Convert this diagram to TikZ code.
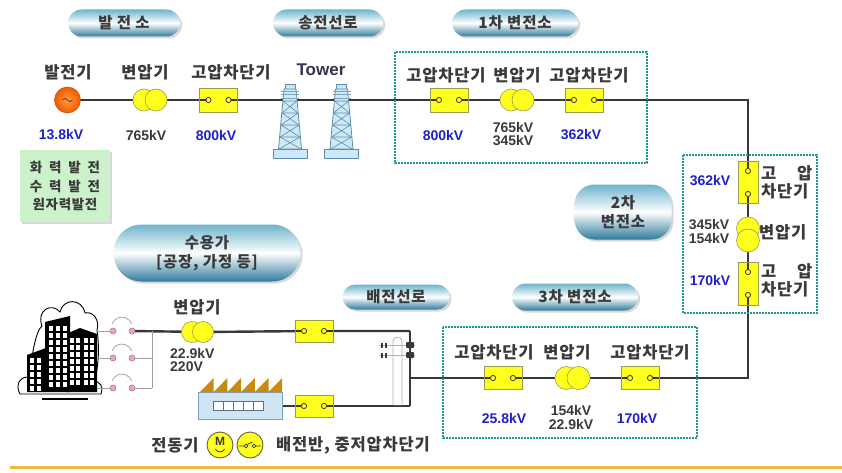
\documentclass[tikz,border=0pt]{standalone}
\usepackage{fontspec}
\setmainfont{Noto Sans CJK KR}[LetterSpace=5]
\newfontfamily\lat{Liberation Sans}
\usetikzlibrary{shadows,backgrounds,calc}

\definecolor{wirec}{HTML}{383838}
\definecolor{txt}{HTML}{3A3A3A}
\definecolor{vblue}{HTML}{2020C8}
\definecolor{yel}{HTML}{FFFF1E}
\definecolor{yeledge}{HTML}{9A9A50}
\definecolor{dteal}{HTML}{1E9A96}
\definecolor{pilltop}{HTML}{6FB4CC}
\definecolor{pillbot}{HTML}{2E7C9C}
\definecolor{boxgreen}{HTML}{CCF2CC}
\definecolor{towerfill}{HTML}{CDE9F6}
\definecolor{toweredge}{HTML}{5E8FA8}
\definecolor{gold}{HTML}{F2B83C}
\definecolor{roof}{HTML}{C98A12}
\definecolor{factory}{HTML}{CFE5F4}
\definecolor{factedge}{HTML}{7DA2C0}
\definecolor{pinkc}{HTML}{E8A6CC}
\definecolor{pinkedge}{HTML}{B86494}
\definecolor{genin}{HTML}{FF9A40}
\definecolor{genout}{HTML}{F05A00}

\begin{document}
\begin{tikzpicture}[x=1pt,y=-1pt,
  wire/.style={draw=wirec, line width=2.4pt},
  thinwire/.style={draw=gray!75, line width=0.9pt},
  lbl/.style={font=\fontsize{16.5}{18.5}\selectfont\bfseries, text=txt, inner sep=0pt, align=center},
  volt/.style={font=\lat\fontsize{14}{13.5}\selectfont\bfseries, text=vblue, inner sep=0pt, align=center},
  voltg/.style={volt, text=txt},
  brk/.style={rectangle, fill=yel, draw=yeledge, line width=0.8pt,
    minimum width=38pt, minimum height=24pt, inner sep=0pt,
    path picture={
      \draw[wirec, line width=1.4pt]
        (path picture bounding box.west) -- ([xshift=-12.6pt]path picture bounding box.center)
        ([xshift=12.6pt]path picture bounding box.center) -- (path picture bounding box.east);
      \filldraw[fill=yel, draw=wirec, line width=0.8pt]
        ([xshift=-10pt]path picture bounding box.center) circle (2.6pt)
        ([xshift=10pt]path picture bounding box.center) circle (2.6pt);}},
  vbrk/.style={rectangle, fill=yel, draw=yeledge, line width=0.8pt,
    minimum width=20pt, minimum height=42pt, inner sep=0pt,
    path picture={
      \draw[wirec, line width=1.4pt]
        (path picture bounding box.north) -- ([yshift=14.1pt]path picture bounding box.center)
        ([yshift=-14.1pt]path picture bounding box.center) -- (path picture bounding box.south);
      \filldraw[fill=yel, draw=wirec, line width=0.8pt]
        ([yshift=11.5pt]path picture bounding box.center) circle (2.6pt)
        ([yshift=-11.5pt]path picture bounding box.center) circle (2.6pt);}},
  xf/.style={circle, fill=yel, draw=yeledge, line width=0.6pt, minimum size=22pt, inner sep=0pt},
  pill/.style={rectangle, top color=pilltop, bottom color=pillbot, middle color=white,
    font=\fontsize{15.5}{19}\selectfont\bfseries, text=txt, align=center, inner sep=0pt,
    drop shadow={shadow xshift=2pt, shadow yshift=-2pt, opacity=0.3}},
  dotbox/.style={draw=dteal, line width=2.3pt, dash pattern=on 1.7pt off 1.3pt},
  pk/.style={circle, fill=pinkc, draw=pinkedge, line width=0.5pt, minimum size=6pt, inner sep=0pt},
  legc/.style={circle, fill=yel, draw=black!70!yellow, line width=0.9pt, minimum size=26pt, inner sep=0pt},
  twr/.style={fill=towerfill, draw=toweredge, line width=0.8pt}
]
\useasboundingbox (0,0) rectangle (842,473);

% ---------- section titles ----------
\node[pill, minimum width=112pt, minimum height=27pt, rounded corners=13.5pt] (tGen) at (124,23) {발 전 소};
\node[pill, minimum width=110pt, minimum height=27pt, rounded corners=13.5pt] (tLine) at (328,23) {송전선로};
\node[pill, minimum width=126pt, minimum height=27pt, rounded corners=13.5pt] (tSub1) at (515,23) {1차 변전소};
\node[pill, minimum width=97pt, minimum height=55pt, rounded corners=20pt] (tSub2) at (623,212) {2차\\변전소};
\node[pill, minimum width=187pt, minimum height=57pt, rounded corners=28pt] (tUser) at (207,253) {수용가\\{[}공장, 가정 등{]}};
\node[pill, minimum width=107pt, minimum height=25pt, rounded corners=12.5pt] (tDist) at (396,297) {배전선로};
\node[pill, minimum width=126pt, minimum height=27pt, rounded corners=13.5pt] (tSub3) at (575,297) {3차 변전소};

% ---------- substation frames ----------
\draw[dotbox] (395,52) rectangle (647,163);
\draw[dotbox] (683,155) rectangle (817,313);
\draw[dotbox] (443,327) rectangle (697,438);

% ---------- power plant ----------
\node[circle, minimum size=26pt, inner sep=0pt, inner color=genin, outer color=genout,
      draw=genout!80!black, line width=0.5pt] (gen) at (67.5,100) {};
\draw[genout!50!black, line width=0.7pt] ([xshift=-5pt]gen.center)
  sin ++(2.5pt,1.6pt) cos ++(2.5pt,-1.6pt) sin ++(2.5pt,-1.6pt) cos ++(2.5pt,1.6pt);
\node[xf] (tAa) at (144,100) {};
\node[xf] (tAb) at (156,100) {};
\node[brk] (bA) at (218.5,100) {};
\node[lbl] (lGen) at (68,72) {발전기};
\node[lbl] (lTA) at (145,72) {변압기};
\node[lbl] (lBA) at (231,72) {고압차단기};
\node[volt] (vGen) at (61,135) {13.8kV};
\node[voltg] (vTA) at (146,135) {765kV};
\node[volt] (vBA) at (216,135) {800kV};

\node[fill=boxgreen, minimum width=90pt, minimum height=72pt, inner sep=0pt,
      font=\fontsize{13.5}{18.5}\selectfont\bfseries, text=txt, align=center,
      drop shadow={shadow xshift=2pt, shadow yshift=-2pt, opacity=0.3}] (plants) at (65,186)
  {\hbox to 5.2em{화\hfil 력\hfil 발\hfil 전}\\\hbox to 5.2em{수\hfil 력\hfil 발\hfil 전}\\원자력발전};

% ---------- transmission towers ----------
\node[font=\lat\fontsize{17}{17}\selectfont\bfseries, text=txt!90!blue, inner sep=0pt] (lTower) at (321,70) {Tower};
\foreach \cx in {290,341.5} {
  \draw[twr] (\cx-5,84) rectangle (\cx+5,89);
  \draw[twr] (\cx-6,89) -- (\cx+6,89) -- (\cx+11.5,149) -- (\cx-11.5,149) -- cycle;
  \draw[twr] (\cx-17,149) rectangle (\cx+17,158);
  \draw[toweredge!80, line width=0.6pt] (\cx-9,91) -- (\cx+9,91) (\cx-9,94.5) -- (\cx+9,94.5) (\cx-9,98) -- (\cx+9,98);
  \foreach \ya/\yb in {101/113,113/125,125/137,137/149} {
    \pgfmathsetmacro\wa{6+(\ya-89)/12}
    \pgfmathsetmacro\wb{6+(\yb-89)/12}
    \draw[toweredge, line width=0.6pt] (\cx-\wa,\ya) -- (\cx+\wb,\yb) (\cx+\wa,\ya) -- (\cx-\wb,\yb) (\cx-\wa,\ya) -- (\cx+\wa,\ya);
  }
}

% ---------- first substation ----------
\node[brk] (b1L) at (449,100) {};
\node[xf] (t1a) at (511,100) {};
\node[xf] (t1b) at (523,100) {};
\node[brk] (b1R) at (584,100) {};
\node[lbl] (l1a) at (446,75) {고압차단기};
\node[lbl] (l1b) at (517,75) {변압기};
\node[lbl] (l1c) at (589,75) {고압차단기};
\node[volt] (v1a) at (443,135) {800kV};
\node[voltg] (v1b) at (513,134) {765kV\\345kV};
\node[volt] (v1c) at (581,135) {362kV};

% ---------- second substation ----------
\coordinate (cTR) at (748,100);
\coordinate (cBR) at (748,378);
\node[vbrk] (b2T) at (748,182.5) {};
\node[xf, minimum size=23pt] (t2a) at (748,228.5) {};
\node[xf, minimum size=23pt] (t2b) at (748,240.5) {};
\node[vbrk, minimum height=43pt] (b2B) at (748,283.5) {};
\node[lbl, anchor=west, align=left] (l2a) at (761,182.5) {\hbox to 3.1em{고\hfil 압}\\차단기};
\node[lbl, anchor=west] (l2b) at (759,232) {변압기};
\node[lbl, anchor=west, align=left] (l2c) at (761,280.5) {\hbox to 3.1em{고\hfil 압}\\차단기};
\node[volt] (v2a) at (710,181) {362kV};
\node[voltg] (v2b) at (709,231.5) {345kV\\154kV};
\node[volt] (v2c) at (710,280) {170kV};

% ---------- third substation ----------
\node[brk, minimum height=23pt] (b3R) at (640,378) {};
\node[xf, minimum size=23pt] (t3a) at (566.5,378) {};
\node[xf, minimum size=23pt] (t3b) at (578.5,378) {};
\node[brk, minimum height=23pt] (b3L) at (503,378) {};
\node[lbl] (l3a) at (494,352) {고압차단기};
\node[lbl] (l3b) at (567,352) {변압기};
\node[lbl] (l3c) at (650,352) {고압차단기};
\node[volt] (v3a) at (504,418) {25.8kV};
\node[voltg] (v3b) at (571,417.5) {154kV\\22.9kV};
\node[volt] (v3c) at (637,418) {170kV};

% ---------- distribution pole ----------
\coordinate (pJ) at (410,378);
\coordinate (pT) at (410,331);
\coordinate (pB) at (410,406);
\draw[gray!60, line width=0.8pt, fill=white] (393,405) -- (393,341) .. controls (393,336) and (402,336) .. (402,341) -- (402,405);
\draw[gray!60, line width=0.7pt] (379,345) -- (415,345) (379,355) -- (415,355);
\foreach \yy in {345,355} {
  \fill[wirec] (381,\yy-2.5) rectangle ++(2,5);
  \fill[wirec] (385,\yy-2.5) rectangle ++(2,5);
  \fill[wirec, rounded corners=1pt] (406,\yy-3) rectangle ++(8,6);
}

% ---------- consumer side ----------
\node[brk, minimum height=22pt] (bD1) at (314,331) {};
\node[xf, minimum size=21pt] (tDa) at (192,332) {};
\node[xf, minimum size=21pt] (tDb) at (203,332) {};
\node[lbl] (lTD) at (197,307) {변압기};
\node[voltg, align=left, anchor=west] (vTD) at (170,360) {22.9kV\\220V};
\node[brk, minimum height=22pt] (bD2) at (314,406) {};

% factory
\node[rectangle, fill=factory, draw=factedge, line width=0.7pt, minimum width=84pt, minimum height=27pt, inner sep=0pt] (fac) at (240,405.5) {};
\fill[roof] (200,392) \foreach \i in {0,...,5} { -- (200+13.7*\i,392) -- (200+13.7*\i+13.7,378) -- (200+13.7*\i+13.7,392) } -- cycle;
\foreach \i in {0,...,4} \draw[fill=white, draw=factedge!70!black, line width=0.6pt] (213+10*\i,401.5) rectangle ++(10,9);
\coordinate (fq) at (263,406);

% building under a cloud outline
\draw[line width=0.9pt, fill=white] (20,394) .. controls (14,384) and (22,374) .. (31,378)
  .. controls (30,360) and (36,330) .. (42,326) .. controls (36,310) and (52,302) .. (60,312)
  .. controls (63,298) and (82,298) .. (85,313) .. controls (93,311) and (100,320) .. (97,330)
  .. controls (100,350) and (98,370) .. (94,382) .. controls (100,380) and (104,388) .. (101,394) -- cycle;
\draw[line width=2pt] (42,399) -- (88,399);
\fill[black] (27,355) -- (46,348) -- (46,392) -- (27,392) -- cycle;
\fill[black] (45,322) -- (70,316) -- (70,392) -- (45,392) -- cycle;
\fill[black] (66,334) -- (80,328) -- (97,334) -- (97,392) -- (66,392) -- cycle;
\foreach \wx in {30,37} \foreach \wy in {358,365,...,386} \fill[white] (\wx,\wy) rectangle ++(3.5,4.5);
\foreach \wx in {49,56,63} \foreach \wy in {326,333,...,384} \fill[white] (\wx,\wy) rectangle ++(3.5,4.5);
\foreach \wx in {70,76,84,90} \foreach \wy in {338,345,...,384} \fill[white] (\wx,\wy) rectangle ++(3.5,4.5);

% switches and bus bar
\foreach \r/\y in {1/331,2/358,3/388} {
  \coordinate (bld\r) at (97,\y);
  \coordinate (bus\r) at (152,\y);
  \node[pk] (s\r l) at (113,\y) {};
  \node[pk] (s\r r) at (132,\y) {};
  \draw[gray!70, line width=0.8pt] ([xshift=-1pt,yshift=7pt]s\r l.center) arc[start angle=160, end angle=20, radius=10.5pt];
  \draw[thinwire] (bld\r) -- (s\r l.west);
}
\draw[thinwire] (s2r.east) -- (bus2);
\draw[thinwire] (s3r.east) -- (bus3);
\draw[thinwire] (bus1) -- (bus3);

% ---------- legend ----------
\node[lbl] (lMot) at (175,445) {전동기};
\node[legc] (legM) at (220,445) {};
\node[font=\lat\fontsize{12}{12}\selectfont\bfseries, text=txt, inner sep=0pt] (legMt) at (220,441) {M};
\draw[txt, line width=0.8pt] (215.5,449) .. controls (217,453) and (223,453) .. (224.5,449);
\node[legc] (legS) at (250,445) {};
\draw[txt, line width=0.8pt] (239,446) -- (244,446) (247.5,444.5) -- (252.5,442) (256,446) -- (261,446);
\draw[txt, line width=0.7pt] (246,446) circle (1.8pt) (254,446) circle (1.8pt);
\node[lbl] (lSw) at (353,445) {배전반, 중저압차단기};

\draw[gold, line width=3pt] (10,467) -- (842,467);

% ---------- conductors ----------
\begin{scope}[on background layer]
  \fill[white] (0,0) rectangle (842,473);
  \draw[wire] (gen.center) -- (tAa.center) -- (bA.center) -- (b1L.center) -- (t1a.center)
    -- (b1R.center) -- (cTR) -- (b2T.center) -- (t2a.center) -- (b2B.center) -- (cBR)
    -- (b3R.center) -- (t3a.center) -- (b3L.center) -- (pJ);
  \draw[wire] (pT) -- (pB);
  \draw[wire] (pT) -- (bD1.center) -- (tDb.center) -- (s1r.center);
  \draw[wire] (pB) -- (bD2.center) -- (fq);
\end{scope}
\end{tikzpicture}
\end{document}
